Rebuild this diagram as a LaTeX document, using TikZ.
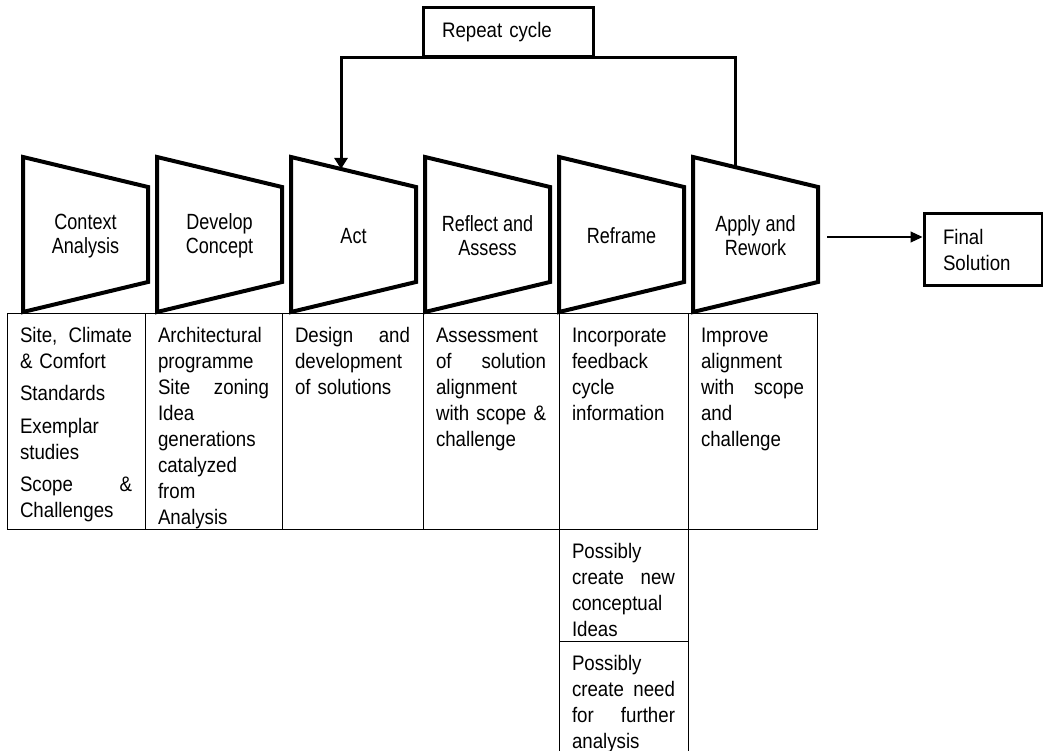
\documentclass[tikz,border=0pt]{standalone}
\usepackage{fontspec}
\setmainfont{Liberation Sans}[FakeStretch=0.89]
\newfontfamily\narrowfont{Liberation Sans}[FakeStretch=0.82]
\usepackage{tikz}
\usetikzlibrary{arrows.meta}

\begin{document}
\begin{tikzpicture}[x=1pt, y=-1pt,
	stage/.style = {draw, line width=4pt},
	stagetext/.style = {align=center, font=\narrowfont\fontsize{22}{24}\selectfont},
	cell/.style = {draw, line width=0.8pt, outer sep=0pt, anchor=north west, align=left, inner xsep=13pt, inner ysep=13pt, text height=16pt, font=\fontsize{21}{26}\selectfont},
	box/.style = {draw, line width=3pt, align=left, inner xsep=19pt, font=\fontsize{21}{26}\selectfont},
	flow/.style = {line width=3pt, -{Triangle[length=11pt,width=13pt]}}]
	\useasboundingbox (0,0) rectangle (1043,751);
	% the six stages
	\foreach \x/\name/\txt in {23/context/{Context\\Analysis}, 157/develop/{Develop\\Concept}, 291/act/Act, 425/reflect/{Reflect and\\Assess}, 559/reframe/Reframe, 693/apply/{Apply and\\Rework}} {
		\draw[stage] (\x,157) -- ++(125,30) -- ++(0,95) -- ++(-125,30) -- cycle;
		\node[stagetext] (\name) at (\x+62.5,236) {\txt};
	}
	% table under the stages
	\node[cell, text width=112pt, text depth=174pt] (ctxcell) at (7,313) {Site,\hfill Climate\\ \& Comfort\\[6.5pt] Standards\\[6.5pt] Exemplar\\ studies\\[6.5pt] Scope\hfill\&\\ Challenges};
	\node[cell, text width=111pt, text depth=174pt] (devcell) at (ctxcell.north east) {Architectural\\ programme\\ Site\hfill zoning\\ Idea\\ generations\\ catalyzed\\ from\\ Analysis};
	\node[cell, text width=115pt, text depth=174pt] (actcell) at (devcell.north east) {Design\hfill and\\ development\\ of solutions};
	\node[cell, text width=110pt, text depth=174pt] (refcell) at (actcell.north east) {Assessment\\ of\hfill solution\\ alignment\\ with\hfill scope\hfill\&\\ challenge};
	\node[cell, text width=103pt, text depth=174pt] (rfmcell) at (refcell.north east) {Incorporate\\ feedback\\ cycle\\ information};
	\node[cell, text width=103pt, text depth=174pt] (appcell) at (rfmcell.north east) {Improve\\ alignment\\ with\hfill scope\\ and\\ challenge};
	\node[cell, text width=103pt, text depth=70pt] (ideacell) at (rfmcell.south west) {Possibly\\ create\hfill new\\ conceptual\\ Ideas};
	\node[cell, text width=103pt, text depth=70pt] (needcell) at (ideacell.south west) {Possibly\\ create\hfill need\\ for\hfill further\\ analysis};
	% repeat loop and result
	\node[box, minimum height=49pt, text width=132pt] (repeat) at (508,32) {Repeat cycle};
	\node[box, minimum height=71pt, text width=80pt] (final) at (983,249.5) {Final\\Solution};
	\coordinate (applytop) at (735,167);
	\coordinate (acttop) at (341,169);
	\coordinate (applyout) at (827,237);
	\draw[flow] (applytop) -- (applytop |- repeat.south) -- (acttop |- repeat.south) -- (acttop);
	\draw[line width=1.2pt, -{Triangle[length=12pt,width=11pt]}] (applyout) -- (applyout -| final.west);
\end{tikzpicture}
\end{document}
